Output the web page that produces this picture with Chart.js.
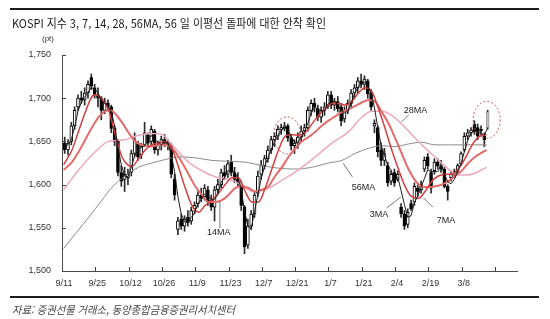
<!DOCTYPE html>
<html lang="ko">
<head>
<meta charset="utf-8">
<title>KOSPI 지수 이동평균</title>
<script src="https://cdn.jsdelivr.net/npm/chart.js@4.4.1/dist/chart.umd.min.js"></script>
<style>
  html, body { margin: 0; padding: 0; background: #fff; }
  #wrap { position: relative; width: 550px; height: 319px; overflow: hidden; }
  #chart { position: absolute; left: 0; top: 0; }
  .rule { position: absolute; left: 10px; width: 529px; height: 2px; background: #1a1a1a; }
  .title { position: absolute; left: 12px; top: 16px; font: 12px "Noto Sans CJK KR", sans-serif; color: #1a1a1a;
           white-space: nowrap; line-height: 14px; transform-origin: 0 50%; }
  .unit { position: absolute; left: 42px; top: 34px; font: 8px "Liberation Sans", Arial, sans-serif; color: #333; }
  .source { position: absolute; left: 12px; top: 302px; font: italic 11px "Noto Sans CJK KR", sans-serif; color: #444;
            white-space: nowrap; line-height: 14px; transform-origin: 0 50%; }
</style>
</head>
<body>
<div id="wrap">
  <canvas id="chart" width="550" height="319"></canvas>
  <div class="rule" style="top:8px"></div>
  <div class="title" id="title">KOSPI 지수 3, 7, 14, 28, 56MA, 56 일 이평선 돌파에 대한 안착 확인</div>
  <div class="unit">(pt)</div>
  <div class="rule" style="top:296px"></div>
  <div class="source" id="source">자료: 증권선물 거래소, 동양종합금융증권리서치센터</div>
</div>
<script>
// x axis labels, every 10 trading days
const DATES = ['9/11', '9/25', '10/12', '10/26', '11/9', '11/23', '12/7', '12/21', '1/7', '1/21', '2/4', '2/19', '3/8'];

// daily candles
const opens = [1648,1640,1650,1668,1690,1700,1698,1706,1724,1712, 1704,1700,1686,1694,1690,1665,1650,1614,1606,1608,
  1614,1636,1648,1634,1646,1658,1650,1662,1640,1646, 1652,1648,1646,1606,1548,1560,1552,1562,1558,1572,
  1578,1588,1586,1594,1582,1574,1594,1600,1614,1612, 1626,1614,1606,1600,1574,1530,1552,1566,1590,1612,
  1622,1630,1640,1652,1656,1664,1666,1668,1654,1645, 1648,1655,1662,1666,1686,1694,1688,1678,1686,1690,
  1704,1692,1696,1690,1676,1686,1694,1706,1712,1720, 1716,1720,1706,1668,1666,1640,1628,1622,1604,1614,
  1606,1574,1566,1554,1578,1580,1596,1594,1618,1632, 1614,1616,1626,1622,1618,1598,1608,1612,1614,1624,
  1640,1656,1660,1670,1666,1664,1656,1666];
const highs = [1655,1652,1672,1690,1704,1708,1712,1720,1728,1716, 1712,1702,1700,1698,1692,1668,1652,1622,1620,1618,
  1640,1660,1650,1648,1672,1660,1668,1664,1650,1656, 1658,1652,1648,1612,1562,1566,1564,1570,1574,1580,
  1592,1596,1600,1598,1588,1598,1606,1618,1622,1628, 1634,1620,1614,1604,1576,1560,1570,1592,1616,1628,
  1634,1645,1656,1660,1668,1670,1672,1670,1658,1652, 1660,1668,1670,1690,1698,1700,1692,1690,1695,1708,
  1708,1700,1702,1694,1690,1698,1710,1716,1724,1728, 1726,1722,1710,1675,1668,1648,1642,1626,1616,1618,
  1616,1578,1570,1572,1582,1602,1600,1604,1632,1636, 1618,1630,1630,1628,1620,1600,1616,1618,1624,1638,
  1660,1664,1666,1674,1670,1668,1660,1686];
const lows = [1636,1634,1646,1664,1686,1694,1692,1700,1710,1700, 1690,1675,1682,1686,1660,1645,1610,1598,1592,1600,
  1610,1632,1628,1630,1644,1644,1646,1636,1634,1640, 1644,1640,1608,1582,1542,1548,1546,1552,1554,1566,
  1574,1580,1582,1576,1570,1558,1590,1596,1606,1608, 1610,1602,1598,1570,1520,1526,1548,1562,1586,1606,
  1618,1626,1636,1644,1652,1658,1662,1650,1640,1636, 1642,1650,1656,1662,1680,1684,1674,1672,1680,1688,
  1688,1686,1684,1668,1672,1682,1690,1700,1706,1712, 1710,1700,1686,1660,1632,1622,1622,1598,1600,1598,
  1604,1562,1548,1550,1570,1576,1586,1590,1615,1618, 1590,1612,1618,1614,1596,1582,1604,1608,1612,1622,
  1638,1652,1656,1658,1652,1656,1644,1664];
const closes = [1640,1648,1668,1686,1700,1698,1706,1716,1714,1704, 1700,1686,1696,1690,1665,1650,1614,1604,1612,1612,
  1636,1652,1632,1644,1660,1648,1664,1640,1646,1652, 1648,1646,1612,1588,1558,1552,1560,1556,1570,1576,
  1588,1584,1596,1580,1574,1594,1600,1614,1610,1624, 1614,1606,1602,1576,1528,1552,1566,1588,1610,1622,
  1630,1640,1652,1656,1664,1666,1668,1654,1645,1648, 1655,1662,1666,1686,1694,1690,1678,1686,1690,1704,
  1692,1696,1688,1674,1686,1694,1706,1712,1720,1716, 1722,1705,1690,1671,1638,1628,1636,1602,1612,1602,
  1612,1566,1552,1568,1572,1598,1592,1600,1628,1622, 1596,1626,1622,1618,1598,1592,1612,1615,1622,1636,
  1656,1660,1663,1662,1656,1662,1652,1684];

// 3 day average, one value per candle
const ma3 = [1644,1646,1652,1667,1685,1695,1701,1707,1712,1711, 1706,1697,1694,1691,1684,1668,1643,1623,1610,1609,
  1620,1633,1640,1643,1645,1651,1657,1651,1650,1646, 1649,1649,1635,1615,1586,1566,1557,1556,1562,1567,
  1578,1583,1589,1587,1583,1583,1589,1603,1608,1616, 1616,1615,1607,1595,1569,1552,1549,1569,1588,1607,
  1621,1631,1641,1649,1657,1662,1666,1663,1656,1649, 1649,1655,1661,1671,1682,1690,1687,1685,1685,1693,
  1695,1697,1692,1686,1683,1685,1695,1704,1713,1716, 1719,1714,1706,1689,1666,1646,1634,1622,1617,1605,
  1609,1593,1577,1562,1564,1579,1587,1597,1607,1617, 1615,1615,1615,1622,1613,1603,1601,1606,1616,1624,
  1638,1651,1660,1662,1660,1660,1657,1666];

// longer averages, sampled along the day axis
const ma7Days = [0.5,3,5,7,9,10, 12,14,16,18,20, 21,23,25,27,29, 31,33,35,37,39, 41,43,45,47,49, 51,53,55,57,59,
  61,63,65,67,69, 71,73,75,77,79, 81,83,85,87,89, 91,93,95,97,99, 101,103,105,107,109, 111,113,115,117,119, 121,123,125,127.5];
const ma7Vals = [1623,1640,1662,1684,1702,1704, 1699,1686,1658,1632,1622, 1621,1630,1640,1646,1648, 1650,1642,1620,1596,1576,
  1568,1576,1582,1590,1600, 1608,1608,1592,1580,1580, 1596,1618,1640,1656,1658, 1657,1660,1670,1680,1688,
  1694,1694,1692,1696,1706, 1712,1708,1688,1665,1640, 1618,1598,1586,1584,1592, 1604,1610,1612,1612,1618, 1630,1645,1655,1658];

const ma14Days = [0.5,3,5,7,9, 11,13,14.5,16,18, 20,22,24,26,28, 30,32,34,36,38, 40,42,44,46,48, 50,52,54,56,58,
  60,62,64,66,68, 70,72,74,76,78, 80,82,84,86,88, 90,92,94,96,98, 100,102,104,106,108, 110,112,114,116,118, 120,122,124,126,127.5];
const ma14Vals = [1617,1626,1638,1652,1666, 1678,1685,1686,1682,1672, 1660,1650,1646,1644,1645, 1646,1645,1638,1626,1612,
  1598,1588,1580,1580,1582, 1588,1596,1598,1596,1592, 1594,1598,1610,1620,1632, 1642,1650,1655,1661,1668,
  1674,1679,1684,1687,1691, 1695,1698,1696,1684,1671, 1654,1636,1618,1605,1598, 1597,1598,1600,1604,1610, 1616,1625,1632,1637,1640];

const ma28Days = [0.5,5,10,14,19, 23,27,30,33,38, 42,46,50,54,57, 61,66,71,76,81, 86,90,93,96,99, 102,105,108,112,116, 119,123,126,127.5];
const ma28Vals = [1594,1617,1638,1650,1652, 1657,1659,1658,1646,1626, 1616,1609,1606,1600,1592, 1594,1605,1617,1632,1648,
  1661,1678,1685,1685,1680, 1670,1658,1646,1632,1618, 1611,1612,1617,1620];

const ma56Days = [0.5,4,8,12,15, 19,23,27,31,35, 40,45,50,55,60, 65,70,75,80,84, 88,92,96,100,104, 108,112,116,120,124, 127.5];
const ma56Vals = [1526,1543,1562,1582,1597, 1610,1620,1625,1629,1632, 1631,1628,1627,1626,1622, 1619,1618,1620,1625,1628,
  1636,1642,1645,1644,1647, 1649,1646,1646,1646,1646, 1646];

const FONT = '"Liberation Sans", Arial, sans-serif';
const tickDays = DATES.map((d, i) => i * 10).concat([130]);
const candleX = closes.map((c, i) => i + 0.8);
const last = closes.length - 1;
const pts = (xs, ys) => xs.map((x, i) => ({x: x, y: ys[i]}));

// dashed rings and the labelled leaders, in day / index units
const rings = [[67.6, 1657], [127.5, 1675]];
const notes = [
  {text: '28MA', at: [102.6, 1686], from: [101.9, 1672.5], to: [104.1, 1680.6]},
  {text: '56MA', at: [87.0, 1596.6], from: [84.4, 1624.7], to: [87.2, 1608.8]},
  {text: '14MA', at: [43.5, 1544], from: [47.4, 1549.8], to: [47.4, 1581]},
  {text: '3MA', at: [92.4, 1564.8], from: [97.5, 1573], to: [101.7, 1585.6]},
  {text: '7MA', at: [112.5, 1559], from: [111.3, 1574.1], to: [108.6, 1584.5]}
];

const decor = {
    id: 'decor',
    afterDraw(chart) {
        const {ctx, chartArea: a, scales: {x, y}} = chart;
        ctx.save();
        // inside tick marks
        ctx.strokeStyle = '#444';
        ctx.lineWidth = 1;
        ctx.beginPath();
        tickDays.slice(1).forEach(v => {
            const px = Math.round(x.getPixelForValue(v)) + 0.5;
            ctx.moveTo(px, a.bottom);
            ctx.lineTo(px, a.bottom - 4);
        });
        for (let v = 1550; v <= 1750; v += 50) {
            const py = Math.round(y.getPixelForValue(v)) + 0.5;
            ctx.moveTo(a.left, py);
            ctx.lineTo(a.left + 4, py);
        }
        ctx.stroke();

        // dashed circles
        ctx.strokeStyle = '#c45a58';
        ctx.setLineDash([2, 2]);
        rings.forEach(r => {
            ctx.beginPath();
            ctx.ellipse(x.getPixelForValue(r[0]), y.getPixelForValue(r[1]), 13.5, 18.5, 0, 0, Math.PI * 2);
            ctx.stroke();
        });
        ctx.setLineDash([]);

        // leaders + labels
        ctx.strokeStyle = '#555';
        ctx.lineWidth = 0.8;
        ctx.fillStyle = '#222';
        ctx.font = '9px ' + FONT;
        ctx.textBaseline = 'middle';
        notes.forEach(n => {
            ctx.beginPath();
            ctx.moveTo(x.getPixelForValue(n.from[0]), y.getPixelForValue(n.from[1]));
            ctx.lineTo(x.getPixelForValue(n.to[0]), y.getPixelForValue(n.to[1]));
            ctx.stroke();
            ctx.fillText(n.text, x.getPixelForValue(n.at[0]), y.getPixelForValue(n.at[1]));
        });
        ctx.restore();
    }
};

const line = (label, xs, ys, color, width, order) => ({
    type: 'line', label: label, data: pts(xs, ys), borderColor: color, borderWidth: width,
    pointRadius: 0, fill: false, cubicInterpolationMode: 'monotone', order: order
});

new Chart(document.getElementById('chart'), {
    type: 'bar',
    data: {
        datasets: [
            Object.assign(line('3MA', candleX, ma3, '#1e1e1e', 1, 1), {cubicInterpolationMode: 'default', tension: 0}),
            line('7MA', ma7Days, ma7Vals, '#d23f3f', 1.5, 2),
            line('14MA', ma14Days, ma14Vals, '#e26b6b', 2, 3),
            line('28MA', ma28Days, ma28Vals, '#eba9bd', 1.5, 4),
            line('56MA', ma56Days, ma56Vals, '#8c8c8c', 1, 5),
            {
                label: 'body',
                data: candleX.map((x, i) => ({x: x, y: [opens[i], closes[i]]})),
                backgroundColor: c => c.dataIndex === last ? '#c4c4c4' : (closes[c.dataIndex] >= opens[c.dataIndex] ? '#fff' : '#000'),
                borderColor: c => c.dataIndex === last ? '#999' : '#000',
                borderWidth: 1,
                borderSkipped: false,
                barThickness: 3,
                grouped: false,
                order: 8
            },
            {
                label: 'wick',
                data: candleX.map((x, i) => ({x: x, y: [lows[i], highs[i]]})),
                backgroundColor: '#2a2a2a',
                barThickness: 1,
                grouped: false,
                order: 9
            }
        ]
    },
    options: {
        responsive: false,
        animation: false,
        devicePixelRatio: 1,
        layout: {padding: {left: 0, top: 55, right: 33, bottom: 0}},
        plugins: {legend: {display: false}, tooltip: {enabled: false}},
        scales: {
            x: {
                type: 'linear', min: 0, max: 136.6, offset: false,
                grid: {display: false, drawTicks: false, offset: false},
                border: {display: true, color: '#4a4a4a', width: 1},
                afterBuildTicks: s => { s.ticks = tickDays.map(v => ({value: v})); },
                afterFit: s => { s.height = 48; },
                ticks: {
                    autoSkip: false, maxRotation: 0, padding: 7, labelOffset: 2, color: '#333',
                    font: {family: FONT, size: 9},
                    callback: (v, i) => DATES[i] || ''
                }
            },
            y: {
                min: 1500, max: 1750,
                grid: {display: false, drawTicks: false},
                border: {display: true, color: '#4a4a4a', width: 1},
                afterFit: s => { s.width = 62; },
                ticks: {
                    stepSize: 50, padding: 11, color: '#333',
                    font: {family: FONT, size: 9},
                    callback: v => v.toLocaleString('en-US')
                }
            }
        }
    },
    plugins: [decor]
});

// squeeze the heading and the source line to the widths in the original
function fitWidth(id, w) {
    const el = document.getElementById(id);
    el.style.transform = 'none';
    const r = el.getBoundingClientRect().width;
    el.style.transform = 'scaleX(' + (w / r) + ')';
}
fitWidth('title', 314);
fitWidth('source', 223);
if (document.fonts) document.fonts.ready.then(() => { fitWidth('title', 314); fitWidth('source', 223); });
</script>
</body>
</html>
